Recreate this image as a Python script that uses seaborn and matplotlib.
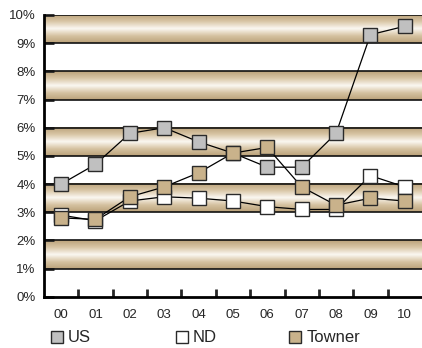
import numpy as np
import pandas as pd
import matplotlib
matplotlib.use("Agg")
import matplotlib.pyplot as plt
from matplotlib.colors import LinearSegmentedColormap
from matplotlib.lines import Line2D
import seaborn as sns

# data (percent)
years = ["00", "01", "02", "03", "04", "05", "06", "07", "08", "09", "10"]
us = [4.0, 4.7, 5.8, 6.0, 5.5, 5.1, 4.6, 4.6, 5.8, 9.3, 9.6]
nd = [2.9, 2.7, 3.4, 3.55, 3.5, 3.4, 3.2, 3.1, 3.1, 4.3, 3.9]
towner = [2.8, 2.75, 3.55, 3.9, 4.4, 5.1, 5.3, 3.9, 3.25, 3.5, 3.4]

series_names = ["US", "ND", "Towner"]
face_colors = {"US": "#c0c0c0", "ND": "#ffffff", "Towner": "#c9b28b"}

df = pd.DataFrame({
    "pos": list(range(len(years))) * 3,
    "rate": us + nd + towner,
    "series": [s for s in series_names for _ in years],
})

sns.set_style("white")
plt.rcParams["font.family"] = ["Liberation Sans", "DejaVu Sans"]

fig = plt.figure(figsize=(4.22, 3.48), dpi=100)
ax = fig.add_axes([0.104, 0.147, 0.896, 0.81])

# tan cylinder-looking bands
band_cmap = LinearSegmentedColormap.from_list(
    "band", ["#bba27a", "#d9c6a6", "#fbf8f2", "#d6c3a2", "#bba27a"])
grad = np.linspace(0, 1, 64).reshape(-1, 1)
for lo in [1, 3, 5, 7, 9]:
    ax.imshow(grad, cmap=band_cmap, extent=[-0.5, 10.5, lo, lo + 1],
              aspect="auto", origin="upper", zorder=0, interpolation="bilinear")
for y in range(1, 11):
    ax.axhline(y, color="#111111", lw=1.2, zorder=1)

for name in series_names:
    sub = df[df["series"] == name]
    sns.lineplot(data=sub, x="pos", y="rate", ax=ax, color="black", lw=0.9,
                 marker="s", markersize=9.5, markerfacecolor=face_colors[name],
                 markeredgecolor="#2a2a2a", markeredgewidth=1.0, zorder=3)

ax.set_xlim(-0.5, 10.5)
ax.set_ylim(0, 10)
ax.set_xlabel("")
ax.set_ylabel("")

ax.set_yticks(range(0, 11))
ax.set_yticklabels([f"{v}%" for v in range(0, 11)])
ax.tick_params(axis="y", direction="in", length=7, width=2, labelsize=9.5, pad=6,
               left=True)

ax.set_xticks(np.arange(0.5, 10, 1))
ax.set_xticklabels([])
ax.set_xticks(range(len(years)), minor=True)
ax.set_xticklabels(years, minor=True)
ax.tick_params(axis="x", which="major", direction="in", length=6, width=2, bottom=True)
ax.tick_params(axis="x", which="minor", length=0, labelsize=9.5, pad=9)

for side in ["top", "right"]:
    ax.spines[side].set_visible(False)
ax.spines["left"].set_linewidth(2)
ax.spines["bottom"].set_linewidth(2)
ax.spines["left"].set_color("black")
ax.spines["bottom"].set_color("black")

# one legend entry per series, placed where the reference has them
legend_x = [0.120, 0.416, 0.684]
for name, lx in zip(series_names, legend_x):
    h = Line2D([], [], ls="none", marker="s", markersize=8.5,
               markerfacecolor=face_colors[name], markeredgecolor="#2a2a2a",
               markeredgewidth=1.0)
    fig.legend([h], [name], loc="center left", frameon=False,
               bbox_to_anchor=(lx, 0.029), fontsize=12, handletextpad=0.25,
               handlelength=0.8, borderpad=0, borderaxespad=0)

fig.savefig("out.png", dpi=100)
